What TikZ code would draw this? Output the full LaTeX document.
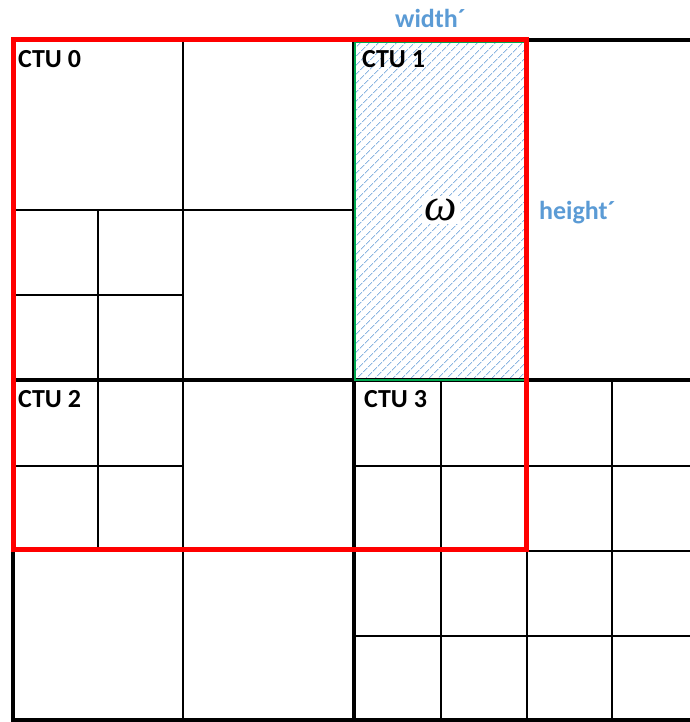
\documentclass[tikz,border=0pt]{standalone}
\usepackage{fontspec}
\setmainfont{Carlito}
\newfontfamily\omegafont{Liberation Serif}
\usetikzlibrary{patterns.meta}

\definecolor{labelblue}{RGB}{91,155,213}
\definecolor{hatchblue}{RGB}{140,182,225}
\definecolor{winborder}{RGB}{0,168,80}
\definecolor{ctured}{RGB}{255,0,0}

\tikzset{
	culine/.style={line width=1.7pt, color=black},
	ctuline/.style={line width=4.5pt, color=black},
	ctulabel/.style={anchor=base west, inner sep=0pt, font=\bfseries\fontsize{26}{28}\selectfont},
	dimlabel/.style={anchor=base west, inner sep=0pt, text=labelblue, font=\bfseries\fontsize{26}{28}\selectfont}
}

\begin{document}
\begin{tikzpicture}[x=1pt,y=-1pt]
	\useasboundingbox (0,0) rectangle (689,722);
	% hatched search window inside CTU 1
	\fill[pattern={Lines[angle=45,distance=6.5pt,line width=1pt]}, pattern color=hatchblue] (355,41) rectangle (527,380);
	% coding unit splits of CTU 0 and CTU 2
	\draw[culine] (183,41) -- (183,720);
	\draw[culine] (13,210) -- (355,210);
	\draw[culine] (98,210) -- (98,548);
	\draw[culine] (13,295) -- (183,295);
	\draw[culine] (13,466) -- (183,466);
	\draw[culine] (13,548) -- (355,548);
	% CTU 1 halves
	\draw[culine] (527,41) -- (527,380);
	% CTU 3 is split into a 4x4 grid
	\foreach \x in {441,527,612} {
		\draw[culine] (\x,380) -- (\x,720);
	}
	\foreach \y in {466,551,636} {
		\draw[culine] (355,\y) -- (698,\y);
	}
	% CTU boundaries and frame
	\draw[ctuline] (354,41) -- (354,720);
	\draw[ctuline] (13,380) -- (698,380);
	\draw[ctuline] (13,720) -- (13,40) -- (698,40);
	\draw[ctuline] (11,720) -- (698,720);
	% window border
	\draw[line width=1.8pt, color=winborder] (355,42) rectangle (527,380);
	% reference area
	\draw[line width=5pt, color=ctured] (13,40) rectangle (526,549);
	% labels
	\node[ctulabel] (ctu0) at (18,68) {CTU 0};
	\node[ctulabel] (ctu1) at (362,68) {CTU 1};
	\node[ctulabel] (ctu2) at (18,407) {CTU 2};
	\node[ctulabel] (ctu3) at (364,407) {CTU 3};
	\node[dimlabel] (width) at (395,28) {width´};
	\node[dimlabel] (height) at (539,219) {height´};
	\node[fill=white, inner sep=3pt, font=\omegafont\itshape\fontsize{46}{46}\selectfont] (omega) at (441,210) {ω};
\end{tikzpicture}
\end{document}
